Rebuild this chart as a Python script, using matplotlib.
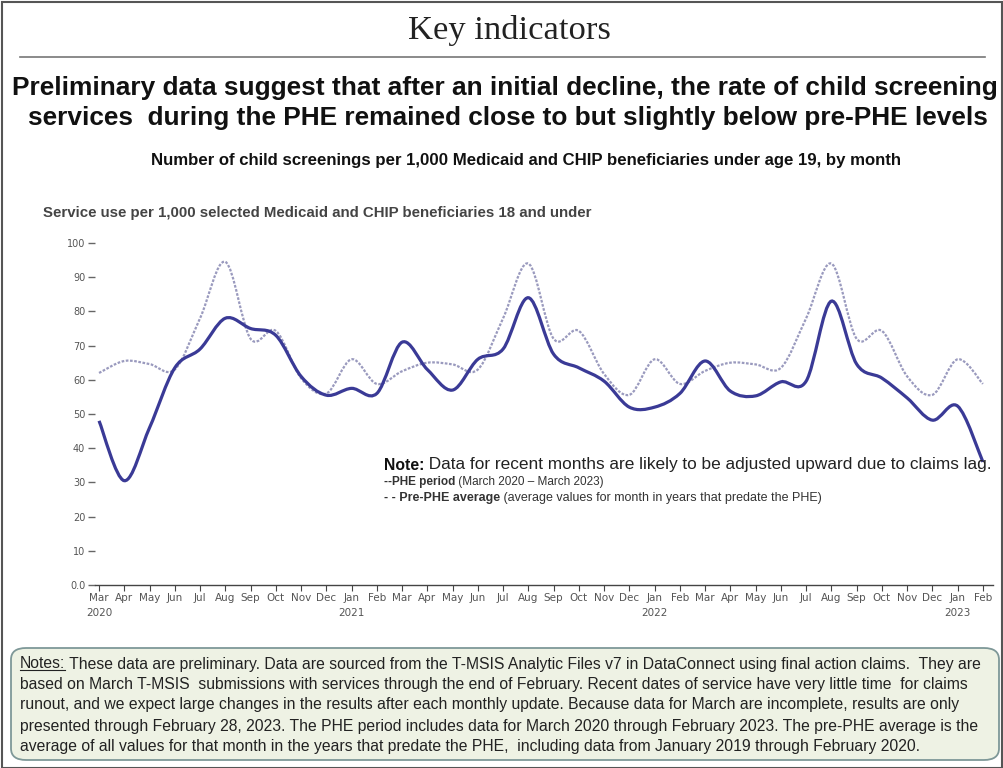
import numpy as np
import matplotlib.pyplot as plt
from matplotlib.path import Path
from matplotlib.patches import PathPatch, FancyBboxPatch, Rectangle
from matplotlib.lines import Line2D
from matplotlib.text import Annotation
from matplotlib import font_manager

# ===== 폰트 =====
names = {f.name for f in font_manager.fontManager.ttflist}
NARROW = 'Liberation Sans Narrow' if 'Liberation Sans Narrow' in names else 'Liberation Sans'
SANS = 'Liberation Sans'
SERIF = 'Liberation Serif'

# ===== 데이터 (2020.03 ~ 2023.02) =====
months = ["Mar", "Apr", "May", "Jun", "Jul", "Aug", "Sep", "Oct", "Nov", "Dec", "Jan", "Feb"] * 3
year_labels = {0: "2020", 10: "2021", 22: "2022", 34: "2023"}

phe_period = [48, 30.5, 46, 63.5, 69, 78, 75, 73, 61, 55.5, 57.5, 56,
              71, 63, 57, 66, 69, 84, 67.5, 63.5, 59.6, 52, 52, 56,
              65.5, 56.7, 55.3, 59.4, 59.6, 83, 64.6, 60.5, 54.7, 48.2, 52.3, 36]
pre_phe_avg = [62, 65.5, 64.6, 63, 78, 94.5, 72, 74.3, 60.5, 56, 66, 58.8,
               62.5, 65, 64.5, 63, 78, 94, 72, 74.3, 61.7, 55.6, 66, 58.8,
               62.6, 65, 64.5, 63.5, 78, 94, 72, 74.3, 61, 55.6, 66, 58.8]

y_ticks = [0, 10, 20, 30, 40, 50, 60, 70, 80, 90, 100]
y_tick_labels = ["0.0", "10", "20", "30", "40", "50", "60", "70", "80", "90", "100"]

W, H = 1004, 768


def fx(px):
    return px / W


def fy(py):
    return 1 - py / H


def smooth_path(xs, ys):
    # Catmull-Rom -> 베지어 곡선
    pts = np.column_stack([xs, ys]).astype(float)
    n = len(pts)
    verts = [pts[0]]
    codes = [Path.MOVETO]
    for i in range(n - 1):
        p0 = pts[max(i - 1, 0)]
        p1 = pts[i]
        p2 = pts[i + 1]
        p3 = pts[min(i + 2, n - 1)]
        c1 = p1 + (p2 - p0) / 6
        c2 = p2 - (p3 - p1) / 6
        verts += [c1, c2, p2]
        codes += [Path.CURVE4] * 3
    return Path(verts, codes)


def after(fig, prev, text, **kw):
    # 앞 텍스트 바로 오른쪽에 이어 쓰기
    a = Annotation(text, xy=(1, 0.5), xycoords=prev, ha="left", va="center", **kw)
    a.set_zorder(5)
    fig.add_artist(a)
    return a


fig = plt.figure(figsize=(W / 100, H / 100), dpi=100)

# 바깥 테두리
fig.patches.append(Rectangle((0.002, 0.0), 0.996, 0.997, transform=fig.transFigure,
                             fill=False, edgecolor="#555555", linewidth=1.5))

fig.text(fx(509), fy(30), "Key indicators", family=SERIF, fontsize=24.8,
         ha="center", va="center", color="#222222")
fig.add_artist(Line2D([fx(20), fx(985)], [fy(57), fy(57)], color="#777777", linewidth=1.2))

fig.text(0.503, fy(88), "Preliminary data suggest that after an initial decline, the rate of child screening",
         family=NARROW, weight="bold", fontsize=18.9, ha="center", va="center", color="#111111")
fig.text(0.506, fy(118), "services  during the PHE remained close to but slightly below pre-PHE levels",
         family=NARROW, weight="bold", fontsize=18.9, ha="center", va="center", color="#111111")
fig.text(fx(526), fy(160), "Number of child screenings per 1,000 Medicaid and CHIP beneficiaries under age 19, by month",
         family=NARROW, weight="bold", fontsize=12.1, ha="center", va="center", color="#111111")
fig.text(fx(43), fy(213), "Service use per 1,000 selected Medicaid and CHIP beneficiaries 18 and under",
         family=SANS, weight="bold", fontsize=10.8, ha="left", va="center", color="#444444")

# ===== 차트 =====
ax = fig.add_axes([fx(95), fy(585), fx(993) - fx(95), fy(243) - fy(585)])
x = np.arange(len(months))
ax.set_xlim(-0.16, 35.4)
ax.set_ylim(0, 100)

ax.add_patch(PathPatch(smooth_path(x, pre_phe_avg), fill=False, edgecolor="#9A9ABE",
                       linewidth=1.6, linestyle=(0, (1.2, 0.7)), clip_on=False))
ax.add_patch(PathPatch(smooth_path(x, phe_period), fill=False, edgecolor="#3A3A96",
                       linewidth=2.3, clip_on=False))

for s in ["top", "right", "left"]:
    ax.spines[s].set_visible(False)
ax.spines["bottom"].set_color("#444444")
ax.spines["bottom"].set_linewidth(1.0)

ax.set_yticks(y_ticks, y_tick_labels)
ax.tick_params(axis="y", length=5, width=1, color="#666666", labelsize=7, labelcolor="#555555", pad=2)
ax.set_xticks(x, months)
ax.tick_params(axis="x", length=4, width=0.8, color="#444444", labelsize=7.5, labelcolor="#555555", pad=2)
for i, yr in year_labels.items():
    ax.annotate(yr, xy=(i, 0), xycoords="data", xytext=(0, -16.5), textcoords="offset points",
                ha="center", va="top", fontsize=7.5, color="#555555", annotation_clip=False)

# 주석 (Note)
t1 = fig.text(fx(384), fy(465), "Note:", family=SANS, weight="bold", fontsize=11.3,
              ha="left", va="center", color="#111111")
after(fig, t1, " Data for recent months are likely to be adjusted upward due to claims lag.",
      family=NARROW, fontsize=12.4, color="#222222")
t2 = fig.text(fx(384), fy(482), "--PHE period", family=NARROW, weight="bold", fontsize=8.5,
              ha="left", va="center", color="#333333")
after(fig, t2, " (March 2020 \u2013 March 2023)", family=NARROW, fontsize=8.5, color="#333333")
t3 = fig.text(fx(384), fy(498), "- - Pre-PHE average", family=NARROW, weight="bold", fontsize=9.0,
              ha="left", va="center", color="#333333")
after(fig, t3, " (average values for month in years that predate the PHE)",
      family=NARROW, fontsize=9.0, color="#333333")

# ===== Notes 박스 =====
fig.patches.append(FancyBboxPatch((fx(11), fy(760)), fx(999) - fx(11), fy(648) - fy(760),
                                  boxstyle="round,pad=0,rounding_size=0.015",
                                  transform=fig.transFigure, facecolor="#EEF2E4",
                                  edgecolor="#7E9898", linewidth=1.3))
notes_lines = [
    "These data are preliminary. Data are sourced from the T-MSIS Analytic Files v7 in DataConnect using final action claims.  They are",
    "based on March T-MSIS  submissions with services through the end of February. Recent dates of service have very little time  for claims",
    "runout, and we expect large changes in the results after each monthly update. Because data for March are incomplete, results are only",
    "presented through February 28, 2023. The PHE period includes data for March 2020 through February 2023. The pre-PHE average is the",
    "average of all values for that month in the years that predate the PHE,  including data from January 2019 through February 2020.",
]
note_y = [664, 685, 705, 726, 746]
NFS = 11.3
tn = fig.text(fx(20), fy(note_y[0]), "Notes:", family=NARROW, fontsize=NFS, ha="left",
              va="center", color="#222222", zorder=5)
after(fig, tn, " " + notes_lines[0], family=NARROW, fontsize=NFS, color="#222222")
for line, yy in zip(notes_lines[1:], note_y[1:]):
    fig.text(fx(20), fy(yy), line, family=NARROW, fontsize=NFS, ha="left", va="center",
             color="#222222", zorder=5)

# Notes: 밑줄
fig.canvas.draw()
bb = tn.get_window_extent().transformed(fig.transFigure.inverted())
fig.add_artist(Line2D([bb.x0, bb.x1], [bb.y0 + 0.002, bb.y0 + 0.002], color="#222222",
                      linewidth=0.8, zorder=5))

plt.savefig("out.png", dpi=100)
plt.close()
